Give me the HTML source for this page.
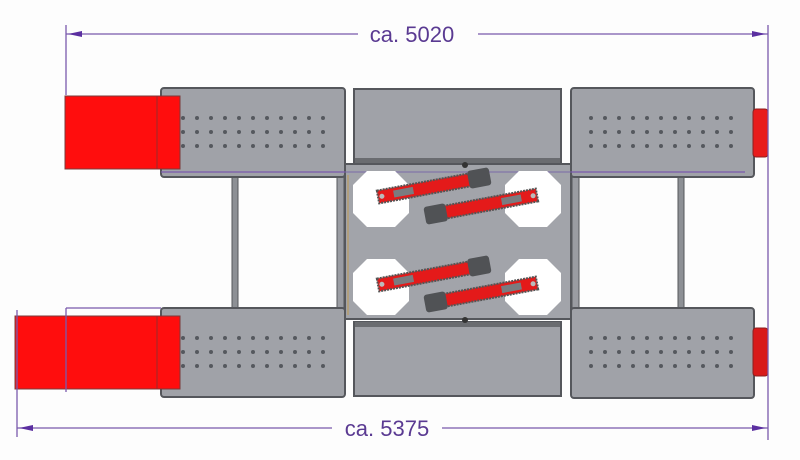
<!DOCTYPE html>
<html><head><style>html,body{margin:0;padding:0;background:#fdfdfd}svg{display:block}</style></head>
<body>
<svg width="800" height="460" viewBox="0 0 800 460" xmlns="http://www.w3.org/2000/svg">
<defs>
<pattern id="dots" x="183" y="118" width="14" height="14" patternUnits="userSpaceOnUse">
<circle cx="0" cy="0" r="2" fill="#55585e"/><circle cx="14" cy="0" r="2" fill="#55585e"/><circle cx="0" cy="14" r="2" fill="#55585e"/><circle cx="14" cy="14" r="2" fill="#55585e"/>
</pattern>
<pattern id="dotsR" x="591" y="118" width="14" height="14" patternUnits="userSpaceOnUse">
<circle cx="0" cy="0" r="2" fill="#55585e"/><circle cx="14" cy="0" r="2" fill="#55585e"/><circle cx="0" cy="14" r="2" fill="#55585e"/><circle cx="14" cy="14" r="2" fill="#55585e"/>
</pattern>
<pattern id="dotsB" x="183" y="338" width="14" height="14" patternUnits="userSpaceOnUse">
<circle cx="0" cy="0" r="2" fill="#55585e"/><circle cx="14" cy="0" r="2" fill="#55585e"/><circle cx="0" cy="14" r="2" fill="#55585e"/><circle cx="14" cy="14" r="2" fill="#55585e"/>
</pattern>
<pattern id="dotsBR" x="591" y="338" width="14" height="14" patternUnits="userSpaceOnUse">
<circle cx="0" cy="0" r="2" fill="#55585e"/><circle cx="14" cy="0" r="2" fill="#55585e"/><circle cx="0" cy="14" r="2" fill="#55585e"/><circle cx="14" cy="14" r="2" fill="#55585e"/>
</pattern>
<g id="oct"><polygon points="-14,-28 14,-28 28,-14 28,14 14,28 -14,28 -28,14 -28,-14" fill="#fff"/></g>
</defs>
<rect x="232" y="175" width="6" height="135" fill="#8d9095" stroke="#55575c"/>
<rect x="678" y="175" width="6" height="135" fill="#8d9095" stroke="#55575c"/>
<rect x="337" y="175" width="7" height="135" fill="#9a9ca2" stroke="#55575c"/>
<rect x="572" y="175" width="7" height="135" fill="#9a9ca2" stroke="#55575c"/>
<rect x="161" y="88" width="184" height="89" rx="3" fill="#a0a2a8" stroke="#55575c" stroke-width="2"/>
<rect x="161" y="308" width="184" height="89" rx="3" fill="#a0a2a8" stroke="#55575c" stroke-width="2"/>
<rect x="180" y="115" width="146" height="35" fill="url(#dots)"/>
<rect x="180" y="335" width="146" height="35" fill="url(#dotsB)"/>
<rect x="571" y="88" width="183" height="89" rx="3" fill="#a0a2a8" stroke="#55575c" stroke-width="2"/>
<rect x="571" y="308" width="183" height="90" rx="3" fill="#a0a2a8" stroke="#55575c" stroke-width="2"/>
<rect x="588" y="115" width="147" height="35" fill="url(#dotsR)"/>
<rect x="588" y="335" width="147" height="35" fill="url(#dotsBR)"/>
<rect x="753" y="109" width="15" height="48" rx="3" fill="#e81c1c" stroke="#8a2020"/>
<rect x="753" y="328" width="15" height="48" rx="3" fill="#d81a1a" stroke="#8a2020"/>
<rect x="354" y="89" width="207" height="73" fill="#a0a2a8" stroke="#55575c" stroke-width="2"/>
<rect x="354" y="322" width="207" height="74" fill="#a0a2a8" stroke="#55575c" stroke-width="2"/>
<rect x="355" y="158" width="205" height="5" fill="#6a6c70"/>
<rect x="355" y="322" width="205" height="5" fill="#6a6c70"/>
<rect x="345" y="164" width="226" height="155" fill="#a2a4aa" stroke="#55575c" stroke-width="2"/>
<line x1="345" y1="172" x2="571" y2="172" stroke="#7a6aa8" stroke-width="1"/>
<line x1="348" y1="175" x2="348" y2="315" stroke="#c09a50" stroke-width="1"/>
<use href="#oct" x="381" y="199"/>
<use href="#oct" x="533" y="199"/>
<use href="#oct" x="381" y="287"/>
<use href="#oct" x="533" y="287"/>
<g id="rods">
<g transform="translate(378,197) rotate(-10.6)">
<rect x="0" y="-6.5" width="96" height="13" fill="#e41a1a" stroke="#555" stroke-width="2" stroke-dasharray="2 1"/>
<rect x="92" y="-9" width="22" height="18" rx="3" fill="#505255"/>
<circle cx="4" cy="0" r="2.5" fill="#bbb"/>
<rect x="16" y="-3.5" width="20" height="7" fill="#7a7c80"/>
</g>
<g transform="translate(537,195) rotate(169.4)">
<rect x="0" y="-6.5" width="96" height="13" fill="#e41a1a" stroke="#555" stroke-width="2" stroke-dasharray="2 1"/>
<rect x="92" y="-9" width="22" height="18" rx="3" fill="#505255"/>
<circle cx="4" cy="0" r="2.5" fill="#bbb"/>
<rect x="16" y="-3.5" width="20" height="7" fill="#7a7c80"/>
</g>
</g>
<use href="#rods" x="0" y="88"/>
<circle cx="465" cy="165" r="3" fill="#333"/>
<circle cx="465" cy="320" r="3" fill="#333"/>
<rect x="65" y="96" width="115" height="73" fill="#ff0d0d" stroke="#7a3a3a"/>
<line x1="157" y1="96" x2="157" y2="169" stroke="#9a2a2a"/>
<rect x="15" y="316" width="165" height="73" fill="#ff0d0d" stroke="#7a3a3a"/>
<line x1="157" y1="316" x2="157" y2="389" stroke="#9a2a2a"/>
<g stroke="#7a5aad" stroke-width="1.3" fill="none">
<line x1="66" y1="25" x2="66" y2="95"/>
<line x1="768" y1="25" x2="768" y2="440"/>
<line x1="17" y1="310" x2="17" y2="437"/>
<line x1="66" y1="308" x2="66" y2="392"/>
<line x1="66" y1="308" x2="161" y2="308"/>
<line x1="66" y1="34" x2="358" y2="34"/>
<line x1="478" y1="34" x2="768" y2="34"/>
<line x1="17" y1="428" x2="332" y2="428"/>
<line x1="442" y1="428" x2="768" y2="428"/>
<line x1="161" y1="172" x2="345" y2="172"/>
<line x1="571" y1="172" x2="745" y2="172"/>
</g>
<polygon points="68,34 82,31 82,37" fill="#5b2fa0"/>
<polygon points="766,34 752,31 752,37" fill="#5b2fa0"/>
<polygon points="19,428 33,425 33,431" fill="#5b2fa0"/>
<polygon points="766,428 752,425 752,431" fill="#5b2fa0"/>
<text x="412" y="42" font-family="Liberation Sans, sans-serif" font-size="22" fill="#5a3a92" text-anchor="middle">ca. 5020</text>
<text x="387" y="436" font-family="Liberation Sans, sans-serif" font-size="22" fill="#5a3a92" text-anchor="middle">ca. 5375</text>
</svg>
</body></html>
